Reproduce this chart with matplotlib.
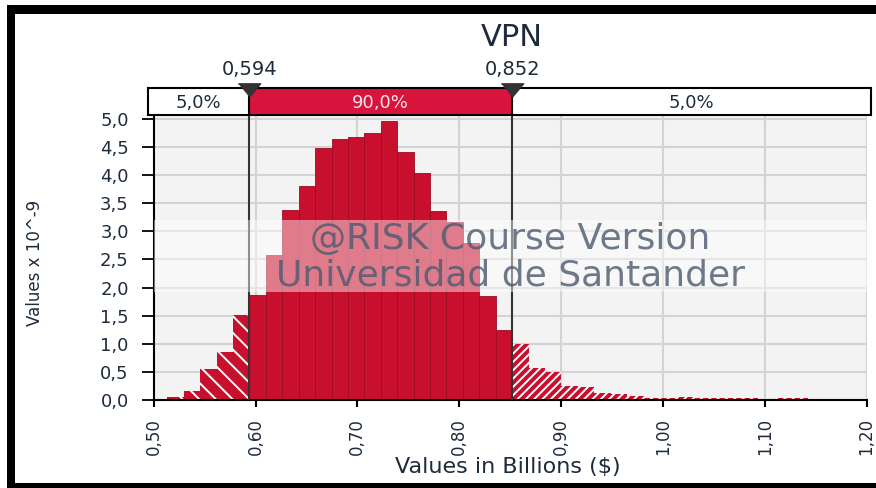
import matplotlib
matplotlib.use("Agg")
import matplotlib.pyplot as plt
import matplotlib.transforms as mtransforms
import numpy as np
from matplotlib.patches import Rectangle

# histogram (values x 10^-9)
bin_start = 0.5134
bin_width = 0.016125
density = np.array([0.05, 0.16, 0.55, 0.85, 1.51, 1.87, 2.58, 3.37, 3.81, 4.48,
                    4.64, 4.68, 4.75, 4.96, 4.41, 4.04, 3.36, 3.17, 2.79, 1.85,
                    1.25, 1.00, 0.57, 0.50, 0.25, 0.23, 0.12, 0.11, 0.07, 0.04,
                    0.03, 0.05, 0.03, 0.03, 0.03, 0.03, 0.02, 0.03, 0.03, 0.02,
                    0.02])
left_cut = 0.594
right_cut = 0.852
cut_labels = ["0,594", "0,852"]
pct_labels = ["5,0%", "90,0%", "5,0%"]
x_ticks = [0.50, 0.60, 0.70, 0.80, 0.90, 1.00, 1.10, 1.20]
y_ticks = [0.0, 0.5, 1.0, 1.5, 2.0, 2.5, 3.0, 3.5, 4.0, 4.5, 5.0]

RED = "#C8102E"
RED_DARK = "#9A0B26"
BAR_RED = "#D8143C"
TXT = "#1E2B3C"
W, H = 876, 488


def box(l, t, r, b):
  # pixel box -> figure fraction
  return [l / W, 1 - b / H, (r - l) / W, (b - t) / H]


fig = plt.figure(figsize=(W / 100, H / 100), dpi=100)

ax = fig.add_axes(box(153.7, 116, 866.5, 400))
ax.set_facecolor("#F3F3F3")
ax.set_xlim(0.5, 1.2)
ax.set_ylim(0, 5.05)

edges = bin_start + bin_width * np.arange(len(density))
centers = edges + bin_width / 2
mid = (centers > left_cut) & (centers < right_cut)
lo = centers <= left_cut
hi = centers >= right_cut

plt.rcParams["hatch.linewidth"] = 1.4
ax.bar(edges[mid], density[mid], width=bin_width, align="edge", color=RED,
       edgecolor=RED_DARK, linewidth=0.6, zorder=2)
ax.bar(edges[lo], density[lo], width=bin_width, align="edge", facecolor=RED,
       edgecolor="white", hatch="\\\\", linewidth=0, zorder=2)
ax.bar(edges[hi], density[hi], width=bin_width, align="edge", facecolor=RED,
       edgecolor="white", hatch="////", linewidth=0, zorder=2)

for c in (left_cut, right_cut):
  ax.axvline(c, color="#333333", lw=1.5, zorder=3)

# watermark band
ax.axhspan(1.92, 3.20, color="white", alpha=0.45, lw=0, zorder=4)
trans = mtransforms.blended_transform_factory(ax.transAxes, ax.transData)
ax.text(0.5, 2.68, "@RISK Course Version", transform=trans, ha="center",
        va="baseline", fontsize=26, color="#4A5A6E", alpha=0.8, zorder=5)
ax.text(0.5, 2.04, "Universidad de Santander", transform=trans, ha="center",
        va="baseline", fontsize=26, color="#4A5A6E", alpha=0.8, zorder=5)

ax.grid(True, color="#D3D3D3", lw=1.5)
ax.set_axisbelow(True)
for s in ("top", "right"):
  ax.spines[s].set_visible(False)
for s in ("left", "bottom"):
  ax.spines[s].set_linewidth(1.5)
  ax.spines[s].set_color("black")

ax.set_xticks(x_ticks)
ax.set_xticklabels([f"{v:.2f}".replace(".", ",") for v in x_ticks])
ax.set_yticks(y_ticks)
ax.set_yticklabels([f"{v:.1f}".replace(".", ",") for v in y_ticks])
ax.tick_params(axis="y", length=9, width=1.3, pad=9, labelsize=13, labelcolor=TXT)
ax.tick_params(axis="x", length=5, width=1.5, pad=8, labelsize=12, labelcolor=TXT,
               labelrotation=90)

# percentile bar above the plot
bax = fig.add_axes(box(148, 88, 871, 115))
bax.set_xlim((148 + 355.4) / 1018.2, (871 + 355.4) / 1018.2)
bax.set_ylim(0, 1)
bax.set_xticks([])
bax.set_yticks([])
for s in bax.spines.values():
  s.set_linewidth(1.5)
  s.set_color("black")
bax.add_patch(Rectangle((left_cut, 0), right_cut - left_cut, 1, color=BAR_RED, lw=0))
seg_x = [(bax.get_xlim()[0] + left_cut) / 2, (left_cut + right_cut) / 2,
         (right_cut + bax.get_xlim()[1]) / 2]
for x, lab, col in zip(seg_x, pct_labels, [TXT, "#FBE3E8", TXT]):
  bax.text(x, 0.45, lab, ha="center", va="center", fontsize=13, color=col)

tri = [(-1, 0.6), (1, 0.6), (0, -0.6)]
for c, lab in zip((left_cut, right_cut), cut_labels):
  bax.axvline(c, color="black", lw=1.5)
  bax.plot([c], [0.94], marker=tri, ms=16, color="#333333", clip_on=False, zorder=5)
  bax.text(c, 1.67, lab, ha="center", va="center", fontsize=14, color=TXT,
           clip_on=False)

fig.text(512 / W, 1 - 38 / H, "VPN", ha="center", va="center", fontsize=22, color=TXT)
fig.text(35 / W, 1 - 263 / H, "Values x 10^-9", ha="center", va="center",
         rotation=90, fontsize=12, color=TXT,
         family=["Liberation Sans Narrow", "DejaVu Sans"])
fig.text(508 / W, 1 - 467 / H, "Values in Billions ($)", ha="center", va="center",
         fontsize=16, color=TXT)

# thick black frame (open on the right)
fig.add_artist(Rectangle((7 / W, 0), 8 / W, 1 - 5 / H, transform=fig.transFigure,
                         color="black", lw=0))
fig.add_artist(Rectangle((7 / W, 1 - 14 / H), 1, 9 / H, transform=fig.transFigure,
                         color="black", lw=0))
fig.add_artist(Rectangle((7 / W, 0), 1, 5 / H, transform=fig.transFigure,
                         color="black", lw=0))

fig.savefig("out.png", dpi=100)
